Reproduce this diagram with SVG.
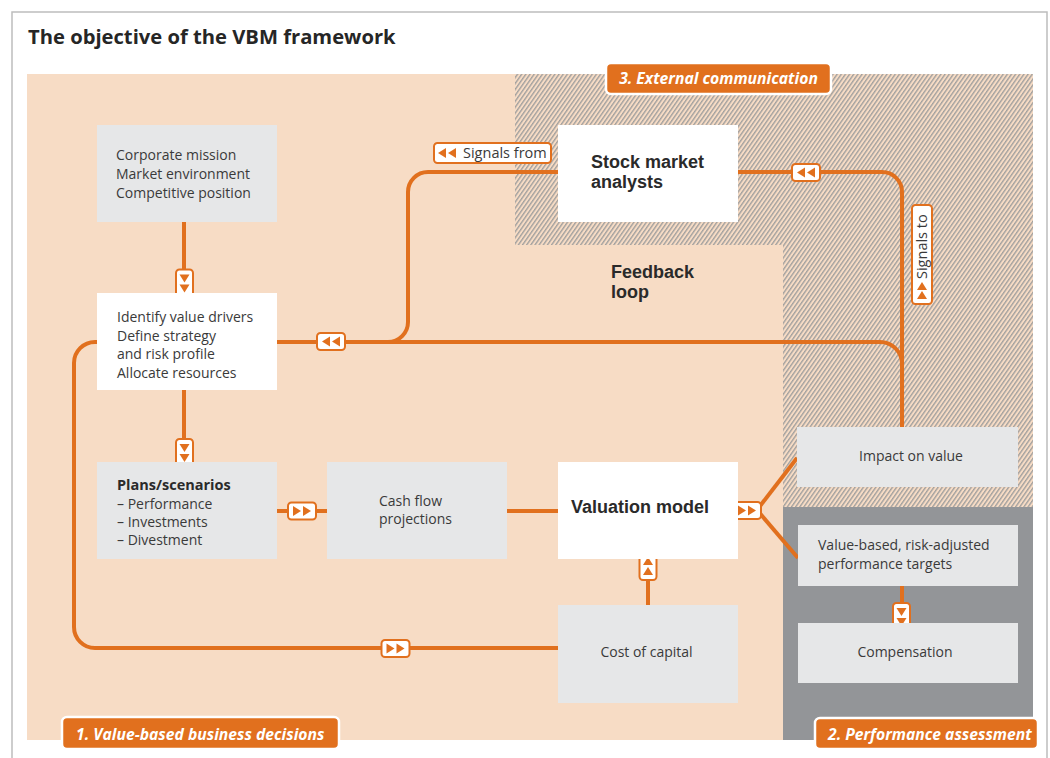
<svg xmlns="http://www.w3.org/2000/svg" width="1050" height="758" viewBox="0 0 1050 758">
<style>
  text { font-family: "Open Sans", "Noto Sans", "Liberation Sans", sans-serif; fill: #3a3a3a; }
  .title { font-size: 20.2px; font-weight: bold; fill: #262626; }
  .body { font-size: 14px; }
  .bold { font-family: "Liberation Sans", Arial, sans-serif; font-size: 18px; font-weight: bold; fill: #2a2a2a; }
  .sub { font-size: 14.5px; font-weight: bold; fill: #2a2a2a; }
  .lbl { font-size: 15.7px; font-weight: bold; font-style: italic; fill: #ffffff; }
  .sig { font-size: 14.5px; }
  .wire { fill: none; stroke: #e1701e; stroke-width: 4; }
  .gbox { fill: #e6e7e8; }
  .wbox { fill: #ffffff; }
  .lblbox { fill: #e1701e; stroke: #ffffff; stroke-width: 2.5; }
  .sigbox { fill: #ffffff; stroke: #e1701e; stroke-width: 2; }
</style>
<defs>
  <pattern id="hatch" width="3.4" height="4" patternUnits="userSpaceOnUse" patternTransform="rotate(35)">
    <rect width="3.4" height="4" fill="#f7dcc5"/>
    <line x1="0.7" y1="0" x2="0.7" y2="4" stroke="#9c9c9c" stroke-width="1.3"/>
  </pattern>
  <g id="badge">
    <rect x="-14" y="-8.5" width="28" height="17" rx="3.5" fill="#ffffff" stroke="#e1701e" stroke-width="2"/>
    <polygon points="-9,-5 -1,0 -9,5" fill="#e1701e"/>
    <polygon points="1,-5 9,0 1,5" fill="#e1701e"/>
  </g>
</defs>

<!-- frame -->
<rect x="12" y="12" width="1035" height="770" fill="#ffffff" stroke="#bdbdbd" stroke-width="1.5"/>
<text class="title" x="28" y="44">The objective of the VBM framework</text>

<!-- regions -->
<g id="regions">
  <rect x="27" y="74" width="756" height="666" fill="#f7dcc5"/>
  <polygon points="515,74 1033,74 1033,507 783,507 783,245 515,245" fill="url(#hatch)"/>
  <rect x="783" y="507" width="250" height="233" fill="#939598"/>
</g>

<!-- connectors -->
<g id="connectors">
  <path class="wire" d="M184 222 V293"/>
  <path class="wire" d="M184 390 V462"/>
  <path class="wire" d="M277 511 H327"/>
  <path class="wire" d="M507 511 H558"/>
  <path class="wire" d="M648 605 V559"/>
  <path class="wire" d="M757 510 L797 458"/>
  <path class="wire" d="M757 510 L798 558"/>
  <path class="wire" d="M277 342 H880 A22 22 0 0 1 902 364 V427"/>
  <path class="wire" d="M388 342 A20 20 0 0 0 408 322 V192 A20 20 0 0 1 428 172 H558"/>
  <path class="wire" d="M738 172 H882 A20 20 0 0 1 902 192 V427"/>
  <path class="wire" d="M97 342 H95 A21 21 0 0 0 74 363 V627 A21 21 0 0 0 95 648 H558"/>
  <path class="wire" d="M902 586 V623"/>
  <use href="#badge" transform="translate(184.5 283.5) rotate(90)"/>
  <use href="#badge" transform="translate(184.5 453) rotate(90)"/>
  <use href="#badge" transform="translate(302 511)"/>
  <use href="#badge" transform="translate(648 566) rotate(-90)"/>
  <use href="#badge" transform="translate(747 510.5)"/>
  <use href="#badge" transform="translate(331 341.5) rotate(180)"/>
  <use href="#badge" transform="translate(806 172.5) rotate(180)"/>
  <use href="#badge" transform="translate(395.5 648.5)"/>
  <use href="#badge" transform="translate(901.5 617) rotate(90)"/>
  <g id="signals-from">
    <rect class="sigbox" x="434" y="143" width="117" height="20" rx="3.5"/>
    <polygon points="446,148 438,153 446,158" fill="#e1701e"/>
    <polygon points="456,148 448,153 456,158" fill="#e1701e"/>
    <text class="sig" x="463" y="158">Signals from</text>
  </g>
  <g id="signals-to" transform="translate(922 304) rotate(-90)">
    <rect class="sigbox" x="0" y="-10" width="99" height="20" rx="3.5"/>
    <polygon points="5,-5 13,0 5,5" fill="#e1701e"/>
    <polygon points="14,-5 22,0 14,5" fill="#e1701e"/>
    <text class="sig" x="25" y="5">Signals to</text>
  </g>
</g>

<!-- nodes -->
<g id="corporate-mission">
  <rect class="gbox" x="97" y="125" width="180" height="97"/>
  <text class="body" x="116" y="160">Corporate mission</text>
  <text class="body" x="116" y="179">Market environment</text>
  <text class="body" x="116" y="198">Competitive position</text>
</g>
<g id="identify">
  <rect class="wbox" x="97" y="293" width="180" height="97"/>
  <text class="body" x="117" y="322">Identify value drivers</text>
  <text class="body" x="117" y="341">Define strategy</text>
  <text class="body" x="117" y="359">and risk profile</text>
  <text class="body" x="117" y="377.5">Allocate resources</text>
</g>
<g id="plans">
  <rect class="gbox" x="97" y="462" width="180" height="97"/>
  <text class="sub" x="117" y="490">Plans/scenarios</text>
  <text class="body" x="117" y="508.5">– Performance</text>
  <text class="body" x="117" y="527">– Investments</text>
  <text class="body" x="117" y="545">– Divestment</text>
</g>
<g id="cash-flow">
  <rect class="gbox" x="327" y="462" width="180" height="97"/>
  <text class="body" x="379" y="506">Cash flow</text>
  <text class="body" x="379" y="524">projections</text>
</g>
<g id="valuation-model">
  <rect class="wbox" x="558" y="462" width="180" height="97"/>
  <text class="bold" x="571" y="513">Valuation model</text>
</g>
<g id="cost-of-capital">
  <rect class="gbox" x="558" y="605" width="180" height="98"/>
  <text class="body" x="646.5" y="657" text-anchor="middle">Cost of capital</text>
</g>
<g id="stock-market-analysts">
  <rect class="wbox" x="558" y="125" width="180" height="97"/>
  <text class="bold" x="591" y="167.5">Stock market</text>
  <text class="bold" x="591" y="188">analysts</text>
</g>
<g id="feedback-loop">
  <text class="bold" x="611" y="277.5">Feedback</text>
  <text class="bold" x="611" y="298">loop</text>
</g>
<g id="impact-on-value">
  <rect class="gbox" x="797" y="427" width="221" height="60"/>
  <text class="body" x="911" y="461" text-anchor="middle">Impact on value</text>
</g>
<g id="targets">
  <rect class="gbox" x="798" y="525" width="220" height="61"/>
  <text class="body" x="818" y="550">Value-based, risk-adjusted</text>
  <text class="body" x="818" y="569">performance targets</text>
</g>
<g id="compensation">
  <rect class="gbox" x="798" y="623" width="220" height="60"/>
  <text class="body" x="905" y="657" text-anchor="middle">Compensation</text>
</g>

<!-- section labels -->
<g id="label-external">
  <rect class="lblbox" x="606" y="63" width="225" height="31" rx="5"/>
  <text class="lbl" x="718.5" y="84" text-anchor="middle">3. External communication</text>
</g>
<g id="label-decisions">
  <rect class="lblbox" x="62" y="717" width="277" height="32" rx="5"/>
  <text class="lbl" x="76" y="740">1. Value-based business decisions</text>
</g>
<g id="label-performance">
  <rect class="lblbox" x="815" y="718" width="223" height="31" rx="5"/>
  <text class="lbl" x="828" y="740">2. Performance assessment</text>
</g>
</svg>
